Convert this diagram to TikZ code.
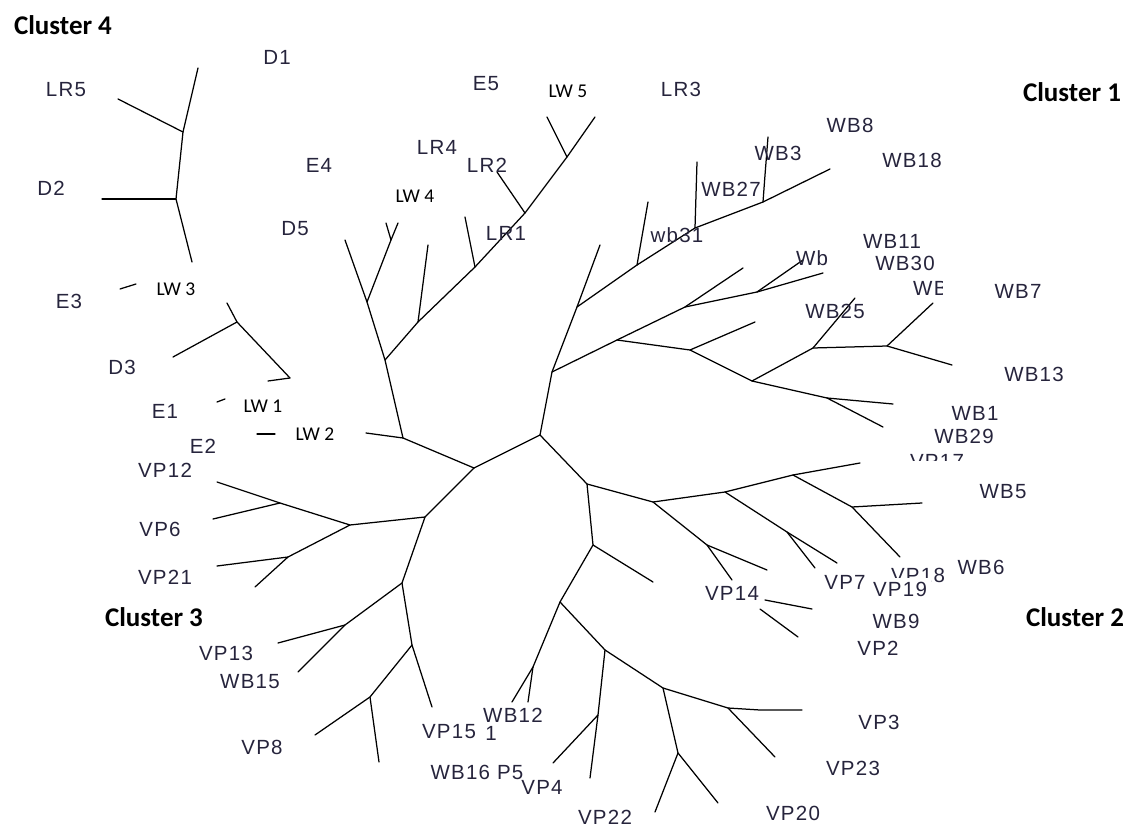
\documentclass[tikz,border=0pt]{standalone}
\usepackage{fontspec}
\setmainfont{Liberation Sans}
\newfontfamily\leaffont[LetterSpace=6]{Liberation Sans}
\newfontfamily\calfont{Carlito}
\definecolor{labc}{RGB}{38,36,60}
\begin{document}
\begin{tikzpicture}[x=1pt,y=-1pt,
  br/.style={line width=1.25pt, line join=round, line cap=round},
  lab/.style={font=\leaffont\fontsize{20.5}{20.5}\selectfont, text=labc, inner sep=0pt},
  lw/.style={font=\calfont\fontsize{19.5}{19.5}\selectfont, inner sep=0pt},
  cl/.style={font=\calfont\bfseries\fontsize{27}{27}\selectfont, inner sep=0pt}]
\path[use as bounding box] (0,0) rectangle (1130,829);
% ---------- tree points ----------
\coordinate (c0) at (474,468); \coordinate (c1) at (540,435);
% cluster 4
\coordinate (k1) at (198,68); \coordinate (k2) at (183,132); \coordinate (k3) at (118,99);
\coordinate (k4) at (176,199); \coordinate (k5) at (102,199); \coordinate (k6) at (192,262);
\coordinate (k7) at (227,303); \coordinate (k8) at (237,322); \coordinate (k9) at (173,357);
\coordinate (k10) at (290,378); \coordinate (k11) at (268,381);
\coordinate (s1a) at (120,289); \coordinate (s1b) at (136,284);
\coordinate (s2a) at (217,402); \coordinate (s2b) at (225,399);
\coordinate (s3a) at (257,434); \coordinate (s3b) at (275,434);
\coordinate (s4a) at (366,433);
% trunk to cluster 1 upper part
\coordinate (t1) at (403,438); \coordinate (t2) at (385,360); \coordinate (t3) at (367,302);
\coordinate (t4) at (345,240); \coordinate (t5) at (391,240); \coordinate (t6) at (386,223); \coordinate (t7) at (398,223);
\coordinate (d1) at (418,322); \coordinate (d2) at (428,245); \coordinate (d3) at (475,267);
\coordinate (d4) at (465,217); \coordinate (d5) at (525,213); \coordinate (d6) at (497,172);
\coordinate (d7) at (567,157); \coordinate (d8) at (547,117); \coordinate (d9) at (595,117);
% cluster 1
\coordinate (u1) at (552,372); \coordinate (u2) at (577,307); \coordinate (u3) at (600,245);
\coordinate (u4) at (637,265); \coordinate (u5) at (648,202); \coordinate (u6) at (695,228);
\coordinate (u7) at (697,162); \coordinate (u8) at (763,202); \coordinate (u9) at (765,175);
\coordinate (u10) at (768,137); \coordinate (u11) at (830,169);
\coordinate (v1) at (617,340); \coordinate (v2) at (685,307); \coordinate (v3) at (743,268);
\coordinate (v4) at (757,292); \coordinate (v5) at (803,260); \coordinate (v6) at (823,273);
\coordinate (v7) at (690,350); \coordinate (v8) at (755,322); \coordinate (v9) at (752,381);
\coordinate (v10) at (813,348); \coordinate (v11) at (855,298); \coordinate (v12) at (887,346);
\coordinate (v13) at (933,303); \coordinate (v14) at (952,365); \coordinate (v15) at (827,398);
\coordinate (v16) at (893,404); \coordinate (v17) at (883,427);
% cluster 2
\coordinate (w1) at (587,484); \coordinate (w2) at (653,502); \coordinate (w3) at (725,492);
\coordinate (w4) at (793,475); \coordinate (w5) at (860,463); \coordinate (w6) at (852,507);
\coordinate (w7) at (922,503); \coordinate (w8) at (900,557); \coordinate (w9) at (787,532);
\coordinate (w10) at (837,563); \coordinate (w11) at (815,568); \coordinate (w12) at (707,545);
\coordinate (w13) at (767,570); \coordinate (w14) at (732,580); \coordinate (w15) at (593,545);
\coordinate (w16) at (653,582); \coordinate (w17) at (560,602);
\coordinate (x1a) at (765,600); \coordinate (x1b) at (812,609);
\coordinate (x2a) at (760,609); \coordinate (x2b) at (798,637);
\coordinate (w18) at (533,667); \coordinate (w19) at (512,702); \coordinate (w20) at (528,702);
\coordinate (y1) at (605,650); \coordinate (y2) at (598,715); \coordinate (y3) at (590,778);
\coordinate (y4) at (553,763); \coordinate (y5) at (663,688); \coordinate (y6) at (678,753);
\coordinate (y7) at (655,812); \coordinate (y8) at (718,803); \coordinate (y9) at (728,708);
\coordinate (y10) at (760,710); \coordinate (y11) at (802,710); \coordinate (y12) at (775,757);
% cluster 3
\coordinate (z1) at (425,517); \coordinate (z2) at (350,525); \coordinate (z3) at (280,503);
\coordinate (z4) at (217,482); \coordinate (z5) at (213,519); \coordinate (z6) at (288,557);
\coordinate (z7) at (217,566); \coordinate (z8) at (255,587); \coordinate (z9) at (402,583);
\coordinate (z10) at (345,625); \coordinate (z11) at (278,643); \coordinate (z12) at (298,672);
\coordinate (z13) at (412,645); \coordinate (z14) at (432,707); \coordinate (z15) at (370,697);
\coordinate (z16) at (315,735); \coordinate (z17) at (379,762);
% ---------- branches ----------
\draw[br] (c0) -- (c1);
% cluster 4
\draw[br] (k1) -- (k2) -- (k4) -- (k6); \draw[br] (k2) -- (k3); \draw[br] (k4) -- (k5);
\draw[br] (k7) -- (k8) -- (k10); \draw[br] (k8) -- (k9); \draw[br] (k10) -- (k11);
\draw[br] (s1a) -- (s1b); \draw[br] (s2a) -- (s2b); \draw[br] (s3a) -- (s3b);
% upper trunk
\draw[br] (c0) -- (t1) -- (t2) -- (t3) -- (t4); \draw[br] (t1) -- (s4a);
\draw[br] (t3) -- (t5) -- (t6); \draw[br] (t5) -- (t7);
\draw[br] (t2) -- (d1) -- (d3) -- (d5) -- (d7) -- (d8); \draw[br] (d7) -- (d9);
\draw[br] (d1) -- (d2); \draw[br] (d3) -- (d4); \draw[br] (d5) -- (d6);
% cluster 1
\draw[br] (c1) -- (u1) -- (u2) -- (u3); \draw[br] (u2) -- (u4) -- (u5);
\draw[br] (u4) -- (u6) -- (u8) -- (u11); \draw[br] (u6) -- (u7); \draw[br] (u8) -- (u9) -- (u10);
\draw[br] (u1) -- (v1) -- (v2) -- (v3); \draw[br] (v2) -- (v4) -- (v5); \draw[br] (v4) -- (v6);
\draw[br] (v1) -- (v7) -- (v8); \draw[br] (v7) -- (v9) -- (v10) -- (v11);
\draw[br] (v10) -- (v12) -- (v13); \draw[br] (v12) -- (v14);
\draw[br] (v9) -- (v15) -- (v16); \draw[br] (v15) -- (v17);
% cluster 2
\draw[br] (c1) -- (w1) -- (w2) -- (w3) -- (w4) -- (w5); \draw[br] (w4) -- (w6) -- (w7); \draw[br] (w6) -- (w8);
\draw[br] (w3) -- (w9) -- (w10); \draw[br] (w9) -- (w11);
\draw[br] (w2) -- (w12) -- (w13); \draw[br] (w12) -- (w14);
\draw[br] (w1) -- (w15) -- (w16); \draw[br] (w15) -- (w17) -- (w18) -- (w19); \draw[br] (w18) -- (w20);
\draw[br] (x1a) -- (x1b); \draw[br] (x2a) -- (x2b);
\draw[br] (w17) -- (y1) -- (y2) -- (y3); \draw[br] (y2) -- (y4);
\draw[br] (y1) -- (y5) -- (y6) -- (y7); \draw[br] (y6) -- (y8);
\draw[br] (y5) -- (y9) -- (y10) -- (y11); \draw[br] (y9) -- (y12);
% cluster 3
\draw[br] (c0) -- (z1) -- (z2) -- (z3) -- (z4); \draw[br] (z3) -- (z5);
\draw[br] (z2) -- (z6) -- (z7); \draw[br] (z6) -- (z8);
\draw[br] (z1) -- (z9) -- (z10) -- (z11); \draw[br] (z10) -- (z12);
\draw[br] (z9) -- (z13) -- (z14); \draw[br] (z13) -- (z15) -- (z16); \draw[br] (z15) -- (z17);
% ---------- cluster titles ----------
\node[cl] (cl4) at (63,25) {Cluster 4};
\node[cl] (cl1) at (1072,92) {Cluster 1};
\node[cl] (cl3) at (154,617) {Cluster 3};
\node[cl] (cl2) at (1075,617) {Cluster 2};
% ---------- LW labels ----------
\node[lw] (lw5) at (568,91) {LW 5};
\node[lw] (lw4) at (415,196) {LW 4};
\node[lw] (lw3) at (176,289) {LW 3};
\node[lw] (lw1) at (263,406) {LW 1};
\node[lw] (lw2) at (315,434) {LW 2};
% ---------- leaf labels ----------
\node[lab] (nD1) at (277,57) {D1};
\node[lab] (nLR5) at (66,90) {LR5};
\node[lab] (nD2) at (51,188) {D2};
\node[lab] (nE4) at (319,165) {E4};
\node[lab] (nD5) at (295,229) {D5};
\node[lab] (nE5) at (486,84) {E5};
\node[lab] (nLR3) at (681,89) {LR3};
\node[lab] (nLR4) at (437,147) {LR4};
\node[lab] (nLR2) at (487,165) {LR2};
\node[lab] (nLR1) at (506,233) {LR1};
\node[lab] (nWB8) at (850,125) {WB8};
\node[lab] (nWB3) at (778,153) {WB3};
\node[lab] (nWB18) at (912,160) {WB18};
\node[lab] (nWB27) at (731,189) {WB27};
\node[lab] (nwb31) at (677,235) {wb31};
\node[lab] (nWb) at (812,258) {Wb};
\node[lab] (nWB11) at (892,241) {WB11};
\node[lab] (nWB30) at (905,263) {WB30};
\begin{scope}
\clip (890,270) rectangle (942,310);
\node[lab, anchor=west] (nWBx) at (913,288) {WB28};
\end{scope}
\node[lab] (nWB7) at (1018,291) {WB7};
\node[lab] (nWB25) at (835,311) {WB25};
\node[lab] (nWB13) at (1034,374) {WB13};
\node[lab] (nWB1) at (975,413) {WB1};
\node[lab] (nWB29) at (964,436) {WB29};
\begin{scope}
\clip (900,440) rectangle (980,460);
\node[lab] (nVP17) at (937,461) {VP17};
\end{scope}
\node[lab] (nWB5) at (1003,492) {WB5};
\node[lab] (nWB6) at (981,567) {WB6};
\begin{scope}
\clip (880,555) rectangle (960,577) (931,555) rectangle (960,590);
\node[lab] (nVP18) at (918,575) {VP18};
\end{scope}
\node[lab] (nVP19) at (900,589) {VP19};
\node[lab] (nVP7) at (845,582) {VP7};
\node[lab] (nVP14) at (732,593) {VP14};
\node[lab] (nWB9) at (896,621) {WB9};
\node[lab] (nVP2) at (878,648) {VP2};
\node[lab] (nVP3) at (879,722) {VP3};
\node[lab] (nVP23) at (853,768) {VP23};
\node[lab] (nVP20) at (793,813) {VP20};
\node[lab] (nVP22) at (605,817) {VP22};
\node[lab] (nVP4) at (542,787) {VP4};
\node[lab] (nWB16) at (477,772) {WB16 P5};
\node[lab] (nWB12) at (513,715) {WB12};
\node[lab] (nVP15) at (449,732) {VP15};
\node[lab] (nVP11) at (491,733) {1};
\node[lab] (nVP8) at (262,747) {VP8};
\node[lab] (nWB15) at (250,682) {WB15};
\node[lab] (nVP13) at (226,653) {VP13};
\node[lab] (nVP21) at (165,577) {VP21};
\node[lab] (nVP6) at (160,529) {VP6};
\node[lab] (nVP12) at (165,470) {VP12};
\node[lab] (nE2) at (203,446) {E2};
\node[lab] (nE1) at (165,411) {E1};
\node[lab] (nD3) at (122,367) {D3};
\node[lab] (nE3) at (69,301) {E3};
\end{tikzpicture}
\end{document}
